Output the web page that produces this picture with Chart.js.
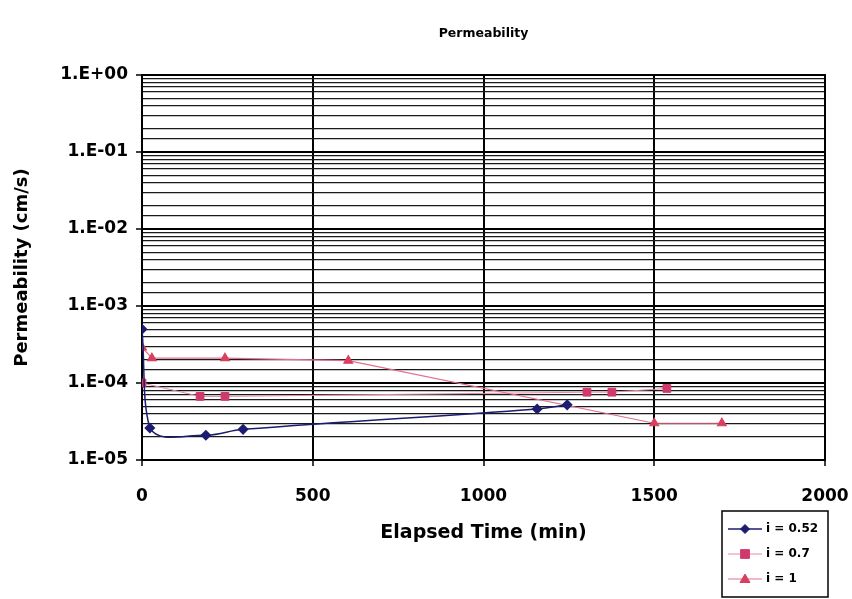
<!DOCTYPE html>
<html>
<head>
<meta charset="utf-8">
<script src="https://cdn.jsdelivr.net/npm/chart.js@4.4.1/dist/chart.umd.min.js"></script>
<style>
  html, body { margin: 0; padding: 0; background: #ffffff; }
  #wrap { width: 852px; height: 599px; position: relative; }
</style>
</head>
<body>
<div id="wrap"><canvas id="c" width="852" height="599"></canvas></div>
<script>
// ---- data ----
const chartTitle = "Permeability";
const xAxisTitle = "Elapsed Time (min)";
const yAxisTitle = "Permeability (cm/s)";
const seriesNames = ["i = 0.52", "i = 0.7", "i = 1"];

const timeI052 = [0, 23, 187, 296, 1157, 1245];
const permI052 = [5.0e-4, 2.6e-5, 2.1e-5, 2.5e-5, 4.6e-5, 5.2e-5];

const timeI07 = [0, 170, 243, 1303, 1376, 1537];
const permI07 = [1.0e-4, 6.7e-5, 6.7e-5, 7.6e-5, 7.6e-5, 8.5e-5];

const timeI1 = [0, 29, 243, 604, 1500, 1698];
const permI1 = [2.9e-4, 2.1e-4, 2.1e-4, 1.95e-4, 3.0e-5, 3.0e-5];

const xTickValues = [0, 500, 1000, 1500, 2000];
const xTickLabels = ["0", "500", "1000", "1500", "2000"];
const yTickLabels = ["1.E-05", "1.E-04", "1.E-03", "1.E-02", "1.E-01", "1.E+00"];
const yExponents = [-5, -4, -3, -2, -1, 0];

function pts(xs, ys) { return xs.map((x, i) => ({ x: x, y: ys[i] })); }

const FONT = "'DejaVu Sans', 'Liberation Sans', Arial, sans-serif";

function isPow10(v) {
  const e = Math.round(Math.log10(v));
  return Math.abs(v / Math.pow(10, e) - 1) < 1e-6;
}

const framePlugin = {
  id: 'frame',
  beforeDatasetsDraw(chart) {
    const { ctx, chartArea: a } = chart;
    ctx.save();
    ctx.strokeStyle = '#000';
    ctx.lineWidth = 2;
    ctx.strokeRect(a.left, a.top, a.right - a.left, a.bottom - a.top);
    ctx.restore();
  }
};

function drawMarker(ctx, style, x, y, r, fill, stroke) {
  ctx.save();
  ctx.fillStyle = fill; ctx.strokeStyle = stroke; ctx.lineWidth = 1;
  ctx.beginPath();
  if (style === 'rectRot') {
    ctx.moveTo(x, y - r); ctx.lineTo(x + r, y); ctx.lineTo(x, y + r); ctx.lineTo(x - r, y); ctx.closePath();
  } else if (style === 'rect') {
    ctx.rect(x - r * 0.8, y - r * 0.8, r * 1.6, r * 1.6);
  } else {
    ctx.moveTo(x, y - r); ctx.lineTo(x + r, y + r * 0.7); ctx.lineTo(x - r, y + r * 0.7); ctx.closePath();
  }
  ctx.fill(); ctx.stroke();
  ctx.restore();
}

const legendPlugin = {
  id: 'boxLegend',
  afterDraw(chart) {
    const { ctx } = chart;
    const bx = 722, by = 511, bw = 106, bh = 86;
    ctx.save();
    ctx.fillStyle = '#fff';
    ctx.fillRect(bx, by, bw, bh);
    ctx.strokeStyle = '#000';
    ctx.lineWidth = 1.5;
    ctx.strokeRect(bx, by, bw, bh);
    chart.data.datasets.forEach((ds, i) => {
      const y = by + 18 + i * 25;
      ctx.strokeStyle = ds.borderColor;
      ctx.lineWidth = ds.borderWidth;
      ctx.beginPath(); ctx.moveTo(bx + 6, y); ctx.lineTo(bx + 40, y); ctx.stroke();
      drawMarker(ctx, ds.pointStyle, bx + 23, y, ds.pointRadius, ds.pointBackgroundColor, ds.pointBorderColor);
      ctx.fillStyle = '#000';
      ctx.font = "bold 12px " + FONT;
      ctx.textBaseline = 'middle';
      ctx.textAlign = 'left';
      ctx.fillText(ds.label, bx + 44, y);
    });
    ctx.restore();
  }
};

const data = {
  datasets: [
    {
      label: seriesNames[0],
      data: pts(timeI052, permI052),
      borderColor: '#1c1c70',
      backgroundColor: '#1c1c70',
      pointBackgroundColor: '#1c1c70',
      pointBorderColor: '#1c1c70',
      pointStyle: 'rectRot',
      pointRadius: 4.5,
      borderWidth: 1.5,
      showLine: true,
      tension: 0.4
    },
    {
      label: seriesNames[1],
      data: pts(timeI07, permI07),
      borderColor: '#e58aa6',
      backgroundColor: '#cf3a6c',
      pointBackgroundColor: '#cf3a6c',
      pointBorderColor: '#cf3a6c',
      pointStyle: 'rect',
      pointRadius: 5.5,
      borderWidth: 1,
      showLine: true,
      tension: 0
    },
    {
      label: seriesNames[2],
      data: pts(timeI1, permI1),
      borderColor: '#e2708c',
      backgroundColor: '#d8405f',
      pointBackgroundColor: '#d8405f',
      pointBorderColor: '#d8405f',
      pointStyle: 'triangle',
      pointRadius: 5,
      borderWidth: 1.2,
      showLine: true,
      tension: 0
    }
  ]
};

new Chart(document.getElementById('c'), {
  type: 'scatter',
  data: data,
  plugins: [framePlugin, legendPlugin],
  options: {
    responsive: false,
    animation: false,
    devicePixelRatio: 1,
    layout: { padding: { left: 0, right: 27, top: 0, bottom: 0 } },
    plugins: {
      legend: { display: false },
      tooltip: { enabled: false },
      title: {
        display: true,
        text: chartTitle,
        fullSize: false,
        color: '#000',
        font: { family: FONT, size: 12.5, weight: 'bold' },
        padding: { top: 26, bottom: 34 }
      }
    },
    scales: {
      x: {
        type: 'linear',
        min: 0, max: 2000,
        afterBuildTicks(scale) { scale.ticks = xTickValues.map(v => ({ value: v })); },
        afterFit(scale) { scale.height = 139; scale.paddingRight = 0; scale.paddingLeft = 0; },
        grid: { color: '#000', lineWidth: 2, tickLength: 6, tickColor: '#000', tickWidth: 1.5 },
        border: { display: false },
        ticks: {
          color: '#000', padding: 20,
          font: { family: FONT, size: 17, weight: 'bold' },
          maxRotation: 0,
          callback: (v) => {
            const idx = xTickValues.indexOf(v);
            return idx >= 0 ? xTickLabels[idx] : '';
          }
        },
        title: {
          display: true, text: xAxisTitle, color: '#000',
          font: { family: FONT, size: 19, weight: 'bold' },
          padding: { top: 0, bottom: 55 }
        }
      },
      y: {
        type: 'logarithmic',
        min: 1e-5, max: 1,
        afterFit(scale) { scale.width = 142; },
        grid: {
          color: (c) => (c.tick && isPow10(c.tick.value)) ? '#000' : '#1a1a1a',
          lineWidth: (c) => (c.tick && isPow10(c.tick.value)) ? 2 : 1.3,
          tickLength: 6,
          tickColor: (c) => (c.tick && isPow10(c.tick.value)) ? '#000' : 'rgba(0,0,0,0)',
          tickWidth: 1.5
        },
        border: { display: false },
        ticks: {
          autoSkip: false,
          color: '#000', padding: 8,
          font: { family: FONT, size: 17, weight: 'bold' },
          callback: (v) => {
            if (!isPow10(v)) return '';
            const idx = yExponents.indexOf(Math.round(Math.log10(v)));
            return idx >= 0 ? yTickLabels[idx] : '';
          }
        },
        title: {
          display: true, text: yAxisTitle, color: '#000',
          font: { family: FONT, size: 18, weight: 'bold' },
          padding: { top: 12, bottom: 0 }
        }
      }
    }
  }
});
</script>
</body>
</html>
